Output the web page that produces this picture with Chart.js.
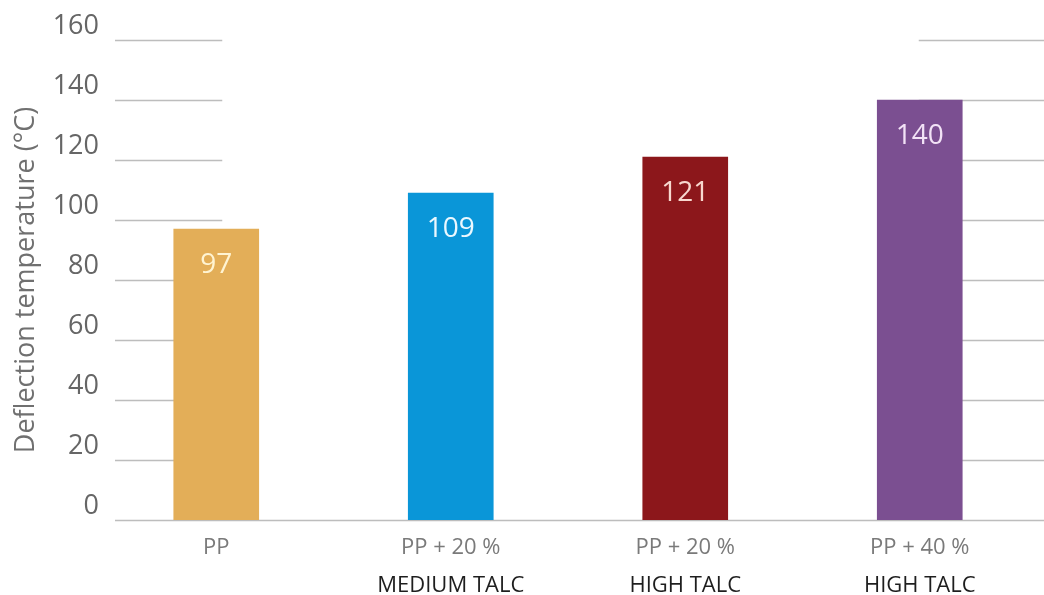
<!DOCTYPE html>
<html>
<head>
<meta charset="utf-8">
<script src="https://cdn.jsdelivr.net/npm/chart.js@4/dist/chart.umd.min.js"></script>
<style>
  html, body { margin: 0; padding: 0; background: #ffffff; }
  #wrap { width: 1044px; height: 595px; }
</style>
</head>
<body>
<div id="wrap"><canvas id="c" width="1044" height="595"></canvas></div>
<script>
// ---- data ----
const categories = ['PP', 'PP + 20 %', 'PP + 20 %', 'PP + 40 %'];
const subLabels = ['', 'MEDIUM TALC', 'HIGH TALC', 'HIGH TALC'];
const values = [97, 109, 121, 140];
const yMin = 0;
const yMax = 160;
const yStep = 20;
const yTitle = 'Deflection temperature (°C)';

// ---- styles ----
const barColors = ['#E3AE58', '#0A96D8', '#8C171B', '#7B4F91'];
const valueColors = ['#FFF4D2', '#EAF8FF', '#F8D8CF', '#F2E2F6'];
const FONT = '"Open Sans", "Noto Sans", sans-serif';
const gridColor = '#BDBDBD';

const partialGrid = {
  id: 'partialGrid',
  beforeDatasetsDraw(chart) {
    const ctx = chart.ctx;
    const y = chart.scales.y;
    const x = chart.scales.x;
    const area = chart.chartArea;
    const leftStart = area.left + 16;
    const leftEnd = x.getPixelForValue(0) + 6;
    const rightStart = x.getPixelForValue(categories.length - 1) - 1;
    const rightEnd = chart.width;
    ctx.save();
    ctx.strokeStyle = gridColor;
    ctx.lineWidth = 1.5;
    y.ticks.forEach(t => {
      const py = Math.round(y.getPixelForValue(t.value)) + 0.5;
      ctx.beginPath();
      if (t.value === yMin) {
        ctx.moveTo(leftStart, py);
        ctx.lineTo(rightEnd, py);
      } else {
        ctx.moveTo(leftStart, py);
        ctx.lineTo(leftEnd, py);
        ctx.moveTo(rightStart, py);
        ctx.lineTo(rightEnd, py);
      }
      ctx.stroke();
    });
    ctx.restore();
  }
};

const valueLabels = {
  id: 'valueLabels',
  afterDatasetsDraw(chart) {
    const ctx = chart.ctx;
    const meta = chart.getDatasetMeta(0);
    ctx.save();
    ctx.font = '28px ' + FONT;
    ctx.textAlign = 'center';
    ctx.textBaseline = 'middle';
    meta.data.forEach((el, i) => {
      ctx.fillStyle = valueColors[i];
      ctx.fillText(String(values[i]), el.x, el.y + 36);
    });
    ctx.restore();
  }
};

new Chart(document.getElementById('c'), {
  type: 'bar',
  data: {
    labels: categories,
    datasets: [{
      data: values,
      backgroundColor: barColors,
      borderWidth: 0,
      barThickness: 85,
      xAxisID: 'x',
      yAxisID: 'y'
    }]
  },
  options: {
    responsive: false,
    devicePixelRatio: 1,
    animation: false,
    layout: { padding: { top: 40, right: 7, left: 0, bottom: 0 } },
    plugins: {
      legend: { display: false },
      tooltip: { enabled: false }
    },
    scales: {
      y: {
        min: yMin,
        max: yMax,
        grid: { display: false, drawTicks: false },
        border: { display: false },
        ticks: {
          stepSize: yStep,
          padding: 0,
          labelOffset: -14,
          color: '#666666',
          font: { family: FONT, size: 27 }
        },
        title: {
          display: true,
          text: yTitle,
          color: '#707070',
          font: { family: FONT, size: 27 },
          padding: { top: 10, bottom: 0 }
        },
        afterFit(scale) { scale.width = 99; }
      },
      x: {
        position: 'bottom',
        offset: true,
        grid: { display: false, drawTicks: false },
        border: { display: false },
        ticks: {
          padding: 15,
          maxRotation: 0,
          autoSkip: false,
          color: '#7A7A7A',
          font: { family: FONT, size: 22 }
        },
        afterFit(scale) { scale.height = 41; }
      },
      x2: {
        type: 'category',
        labels: subLabels,
        position: 'bottom',
        offset: true,
        grid: { display: false, drawTicks: false },
        border: { display: false },
        ticks: {
          padding: 12,
          maxRotation: 0,
          autoSkip: false,
          color: '#1E1E1E',
          font: { family: FONT, size: 22 }
        },
        afterFit(scale) { scale.height = 34; }
      }
    }
  },
  plugins: [partialGrid, valueLabels]
});
</script>
</body>
</html>
